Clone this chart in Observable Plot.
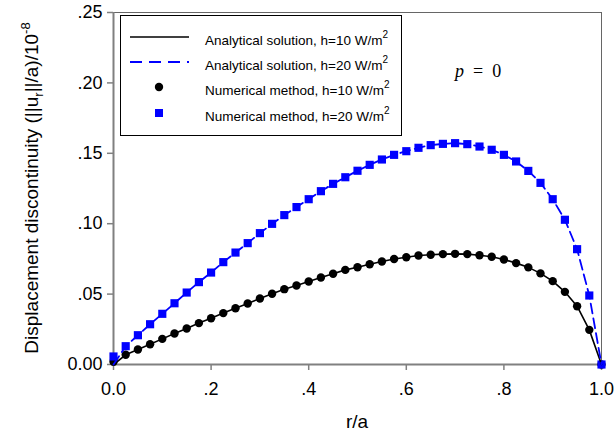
<!DOCTYPE html>
<html><head><meta charset="utf-8">
<script src="https://cdn.jsdelivr.net/npm/d3@7"></script>
<script src="https://cdn.jsdelivr.net/npm/@observablehq/plot@0.6"></script>
<style>body{margin:0;background:#fff;} #chart{width:614px;height:437px;}</style>
</head><body><div id="chart"></div>
<script>
const rOverA = [0, 0.025, 0.05, 0.075, 0.1, 0.125, 0.15, 0.175, 0.2, 0.225, 0.25, 0.275, 0.3, 0.325, 0.35, 0.375, 0.4, 0.425, 0.45, 0.475, 0.5, 0.525, 0.55, 0.575, 0.6, 0.625, 0.65, 0.675, 0.7, 0.725, 0.75, 0.775, 0.8, 0.825, 0.85, 0.875, 0.9, 0.925, 0.95, 0.975, 1.0];
const numerical10 = [0.0020, 0.0069, 0.0107, 0.0144, 0.0182, 0.0220, 0.0256, 0.0294, 0.0329, 0.0365, 0.0400, 0.0433, 0.0469, 0.0502, 0.0535, 0.0561, 0.0589, 0.0618, 0.0644, 0.0672, 0.0691, 0.0712, 0.0732, 0.0749, 0.0762, 0.0774, 0.0779, 0.0784, 0.0786, 0.0784, 0.0776, 0.0765, 0.0746, 0.0720, 0.0690, 0.0647, 0.0592, 0.0516, 0.0414, 0.0246, 0];
const numerical20 = [0.0057, 0.0130, 0.0208, 0.0286, 0.0360, 0.0435, 0.0511, 0.0585, 0.0653, 0.0727, 0.0795, 0.0862, 0.0933, 0.0999, 0.1061, 0.1118, 0.1174, 0.1231, 0.1283, 0.1330, 0.1376, 0.1418, 0.1456, 0.1489, 0.1515, 0.1539, 0.1558, 0.1567, 0.1572, 0.1565, 0.1548, 0.1525, 0.1489, 0.1442, 0.1375, 0.1290, 0.1174, 0.1028, 0.0819, 0.0490, 0];
const analytical10 = [0, 0.0069, 0.0107, 0.0144, 0.0182, 0.0220, 0.0256, 0.0294, 0.0329, 0.0365, 0.0400, 0.0433, 0.0469, 0.0502, 0.0535, 0.0561, 0.0589, 0.0618, 0.0644, 0.0672, 0.0691, 0.0712, 0.0732, 0.0749, 0.0762, 0.0774, 0.0779, 0.0784, 0.0786, 0.0784, 0.0776, 0.0765, 0.0746, 0.0720, 0.0690, 0.0647, 0.0592, 0.0516, 0.0414, 0.0246, 0];
const analytical20 = [0, 0.0130, 0.0208, 0.0286, 0.0360, 0.0435, 0.0511, 0.0585, 0.0653, 0.0727, 0.0795, 0.0862, 0.0933, 0.0999, 0.1061, 0.1118, 0.1174, 0.1231, 0.1283, 0.1330, 0.1376, 0.1418, 0.1456, 0.1489, 0.1515, 0.1539, 0.1558, 0.1567, 0.1572, 0.1565, 0.1548, 0.1525, 0.1489, 0.1442, 0.1375, 0.1290, 0.1174, 0.1028, 0.0819, 0.0490, 0];
const xTickValues = [0, 0.2, 0.4, 0.6, 0.8, 1.0];
const xTickLabels = ["0.0", ".2", ".4", ".6", ".8", "1.0"];
const yTickValues = [0, 0.05, 0.1, 0.15, 0.2, 0.25];
const yTickLabels = ["0.00", ".05", ".10", ".15", ".20", ".25"];
const legendLabels = ["Analytical solution, h=10 W/m", "Analytical solution, h=20 W/m", "Numerical method, h=10 W/m", "Numerical method, h=20 W/m"];
const xTitle = "r/a";
const annotation = ["p", " = 0"];

const rows10 = rOverA.map((x, i) => ({x, num: numerical10[i], ana: analytical10[i]}));
const rows20 = rOverA.map((x, i) => ({x, num: numerical20[i], ana: analytical20[i]}));
const BLUE = "#0000ff";
const FONT = "'Liberation Sans', Arial, sans-serif";

const chart = Plot.plot({
  width: 614, height: 437,
  marginLeft: 113, marginRight: 13, marginTop: 12, marginBottom: 73,
  style: {fontFamily: FONT, fontSize: "18px", color: "black", background: "white"},
  x: {domain: [0, 1]},
  y: {domain: [0, 0.25]},
  marks: [
    Plot.frame({stroke: "#666", strokeWidth: 1}),
    Plot.ruleY([0], {stroke: "#808080", strokeWidth: 2}),
    Plot.ruleX([0], {stroke: "#808080", strokeWidth: 2}),
    Plot.axisX({ticks: xTickValues, tickFormat: d => xTickLabels[xTickValues.indexOf(d)], tickSize: 6, tickPadding: 12, stroke: "#808080", strokeWidth: 1.5, label: null}),
    Plot.axisY({ticks: yTickValues, tickFormat: d => yTickLabels[yTickValues.indexOf(d)], tickSize: 6, tickPadding: 5, stroke: "#808080", strokeWidth: 1.5, label: null}),
    Plot.dot(rows10, {x: "x", y: "num", r: 4.2, fill: "black"}),
    Plot.dot(rows20, {x: "x", y: "num", r: 4.6, symbol: "square", fill: BLUE}),
    Plot.line(rows10, {x: "x", y: "ana", stroke: "black", strokeWidth: 1.6}),
    Plot.line(rows20, {x: "x", y: "ana", stroke: BLUE, strokeWidth: 1.8, strokeDasharray: "10,5"})
  ]
});
document.getElementById("chart").appendChild(chart);

const svg = d3.select(chart);
// y title
const yt = svg.append("text")
  .attr("transform", "translate(38,188) rotate(-90)")
  .attr("text-anchor", "middle")
  .attr("font-family", FONT).attr("font-size", 19).attr("fill", "black");
yt.append("tspan").text("Displacement discontinuity (||u");
yt.append("tspan").attr("dy", 5).attr("font-size", 13).text("r");
yt.append("tspan").attr("dy", -5).text("||/a)/10");
yt.append("tspan").attr("dy", -8).attr("font-size", 13).text("-8");
// x title
svg.append("text").attr("x", 357).attr("y", 428).attr("text-anchor", "middle")
  .attr("font-family", FONT).attr("font-size", 19).attr("fill", "black").text(xTitle);
// annotation
const pt = svg.append("text").attr("x", 455).attr("y", 77).attr("text-anchor", "start")
  .attr("font-family", "'Liberation Serif', 'Times New Roman', serif").attr("font-size", 18).attr("fill", "black");
pt.append("tspan").attr("font-style", "italic").text(annotation[0]);
pt.append("tspan").text(annotation[1].replace(/ /g, "\u2002"));
// legend
const lg = svg.append("g");
lg.append("rect").attr("x", 120.5).attr("y", 15.5).attr("width", 281).attr("height", 120)
  .attr("fill", "white").attr("stroke", "black").attr("stroke-width", 1);
const rowsY = [37, 62, 87, 113];
legendLabels.forEach((lab, i) => {
  const y = rowsY[i];
  if (i === 0) lg.append("line").attr("x1", 130).attr("x2", 189).attr("y1", y).attr("y2", y).attr("stroke", "black").attr("stroke-width", 1.6);
  if (i === 1) lg.append("line").attr("x1", 130).attr("x2", 189).attr("y1", y).attr("y2", y).attr("stroke", BLUE).attr("stroke-width", 1.8).attr("stroke-dasharray", "12,7");
  if (i === 2) lg.append("circle").attr("cx", 159).attr("cy", y).attr("r", 4.2).attr("fill", "black");
  if (i === 3) lg.append("rect").attr("x", 155).attr("y", y - 4).attr("width", 8).attr("height", 8).attr("fill", BLUE);
  const t = lg.append("text").attr("x", 205).attr("y", y + 8).attr("text-anchor", "start")
    .attr("font-family", FONT).attr("font-size", 13.5).attr("fill", "black");
  t.append("tspan").text(lab);
  t.append("tspan").attr("dy", -7).attr("font-size", 10).text("2");
});
</script>
</body></html>
